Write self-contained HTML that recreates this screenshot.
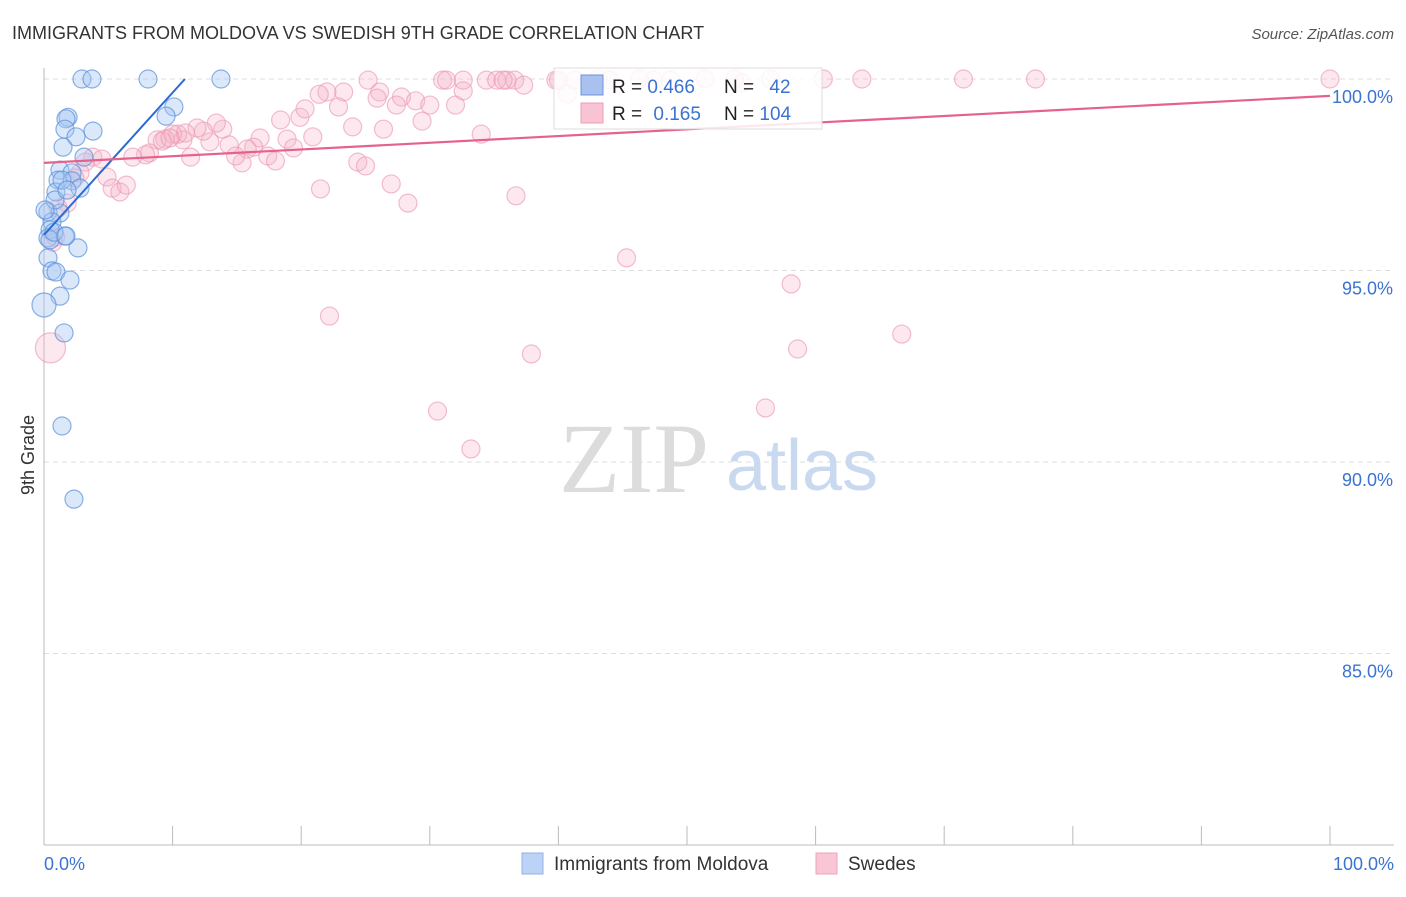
<!DOCTYPE html>
<html><head><meta charset="utf-8"><style>
body{margin:0;background:#fff;font-family:"Liberation Sans",sans-serif;}
</style></head><body>
<svg id="chart" width="1406" height="892" font-family="Liberation Sans, sans-serif">
<text x="12" y="39" font-size="18" fill="#333">IMMIGRANTS FROM MOLDOVA VS SWEDISH 9TH GRADE CORRELATION CHART</text>
<text x="1394" y="39" font-size="15" fill="#555" text-anchor="end" font-style="italic">Source: ZipAtlas.com</text>
<text transform="translate(34,455) rotate(-90)" font-size="18" fill="#333" text-anchor="middle">9th Grade</text>
<g id="grid"></g>
<g id="axes"></g>
<text x="634" y="492" font-size="100" fill="#dcdcdc" style="font-family:'Liberation Serif',serif" text-anchor="middle">ZIP</text>
<text x="802" y="490" font-size="72" fill="#c8d9f0" text-anchor="middle">atlas</text>
<g id="pts"></g>
<g id="lines"></g>
<g>
<rect x="554" y="68" width="268" height="61" fill="#fff" fill-opacity="0.85" stroke="#ddd"/>
<rect x="581" y="75" width="22" height="20" fill="#a9c1ee" stroke="#6a95dd"/>
<rect x="581" y="103" width="22" height="20" fill="#f8c3d3" stroke="#ee9bb6"/>
<text x="612" y="93" font-size="19" fill="#222">R = <tspan fill="#3b73d1">0.466</tspan></text>
<text x="724" y="93" font-size="19" fill="#222">N = <tspan fill="#3b73d1" dx="10">42</tspan></text>
<text x="612" y="120" font-size="19" fill="#222">R = <tspan fill="#3b73d1" dx="6">0.165</tspan></text>
<text x="724" y="120" font-size="19" fill="#222">N = <tspan fill="#3b73d1">104</tspan></text>
</g>
<g>
<rect x="522" y="853" width="21" height="21" fill="#bcd3f5" stroke="#8fb0e6"/>
<text x="554" y="870" font-size="19" fill="#333">Immigrants from Moldova</text>
<rect x="816" y="853" width="21" height="21" fill="#f9c6d5" stroke="#efa3bb"/>
<text x="848" y="870" font-size="19" fill="#333">Swedes</text>
</g>
</svg>
<script>
const yTicks=[100,95,90,85];
const yTickLabels=["100.0%","95.0%","90.0%","85.0%"];
const xTickLabels=["0.0%","100.0%"];
const blueX=[2.95,3.73,8.09,13.76,10.1,9.49,1.87,1.71,1.63,3.81,2.49,1.48,3.11,1.24,2.18,1.09,2.18,2.8,0.93,0.31,1.24,0.62,0.47,1.63,0.31,2.64,0.31,0.62,0.93,2.02,1.24,0,1.56,1.4,2.33,1.4,0.86,0.47,0.08,1.79,0.78,1.71];
const blueY=[100,100,100,100,99.27,99.03,99.0,98.96,98.69,98.64,98.49,98.22,97.96,97.62,97.55,97.36,97.34,97.15,97.05,96.53,96.5,96.27,96.06,95.9,95.85,95.59,95.33,94.99,94.96,94.75,94.33,94.1,93.37,90.94,89.03,97.36,96.84,95.8,96.58,97.1,96.0,95.9];
const pinkX=[25.2,22.0,23.3,22.9,26.1,27.8,27.4,28.9,30.0,29.4,32.0,32.6,31.0,32.6,34.4,35.2,36.0,36.6,37.3,40.0,40.7,34.0,24.0,26.4,18.4,19.9,20.3,20.9,18.9,19.4,16.8,16.3,15.8,15.4,14.9,14.4,17.4,18.0,13.9,13.4,12.9,12.4,11.9,11.4,10.8,10.4,10.0,9.4,8.8,8.2,24.4,25.0,21.5,27.0,28.3,36.7,22.2,3.8,4.5,3.2,4.9,5.3,5.9,6.4,2.8,2.4,1.8,1.1,0.9,0.7,0.5,45.3,58.1,66.7,58.6,37.9,30.6,56.1,33.2,60.6,63.6,71.5,77.1,100,53.7,51.4,56.5,46.3,43.1,41.3,54.3,7.9,6.9,9.2,11.0,9.8,31.3,35.7,39.8,44.0,47.4,48.7,25.9,21.4];
const pinkY=[99.97,99.66,99.66,99.27,99.66,99.53,99.32,99.43,99.32,98.9,99.32,99.69,99.97,99.97,99.97,99.97,99.97,99.97,99.84,99.97,99.61,98.56,98.75,98.69,98.93,99.0,99.22,98.49,98.43,98.2,98.46,98.22,98.17,97.81,97.99,98.28,97.99,97.86,98.69,98.85,98.36,98.64,98.72,97.96,98.41,98.56,98.56,98.43,98.41,98.07,97.83,97.73,97.13,97.26,96.76,96.95,93.81,97.96,97.91,97.83,97.44,97.15,97.05,97.23,97.55,97.42,96.76,96.63,95.87,95.74,92.98,95.33,94.65,93.34,92.95,92.82,91.33,91.41,90.34,100,100,100,100,100,100,100,100,100,100,99.97,99.9,98.02,97.96,98.38,98.59,98.46,99.97,99.97,99.97,99.97,99.97,99.97,99.5,99.6];
const blueTrend=[[0,95.93],[10.96,100]];
const pinkTrend=[[0,97.81],[100,99.56]];
const NS="http://www.w3.org/2000/svg";
const X=v=>44+v*12.86, Y=v=>79+(100-v)*38.3;
function mk(t,a,p){const e=document.createElementNS(NS,t);for(const k in a)e.setAttribute(k,a[k]);p.appendChild(e);return e;}
const grid=document.getElementById('grid'),axes=document.getElementById('axes');
yTicks.forEach((t,i)=>{
 const l=mk('line',{x1:44,x2:1394,y1:Y(t),y2:Y(t),stroke:'#ddd','stroke-dasharray':'5,4'},grid);
 
 
 const tx=mk('text',{x:1393,y:Y(t)+24,'font-size':18,fill:'#3b73d1','text-anchor':'end'},axes);
 tx.textContent=yTickLabels[i];
 
 
});
mk('line',{x1:44,x2:44,y1:68,y2:845,stroke:'#bbb'},axes);
mk('line',{x1:44,x2:1394,y1:845,y2:845,stroke:'#bbb'},axes);
for(let i=0;i<=10;i++){const t=mk('line',{x1:X(i*10),x2:X(i*10),y1:826,y2:845,stroke:'#bbb'},axes);
 
 }
[[0,'start',44],[1,'end',1394]].forEach(([i,a,x])=>{const t=mk('text',{x:x,y:870,'font-size':18,fill:'#3b73d1','text-anchor':a},axes);t.textContent=xTickLabels[i];
 
 });
const pts=document.getElementById('pts');
pinkX.forEach((x,i)=>{const r=(x<1&&pinkY[i]<93.5)?15:9;
 const c=mk('circle',{cx:X(x),cy:Y(pinkY[i]),r:r,fill:'#f6b3c8','fill-opacity':0.3,stroke:'#eb93b1','stroke-opacity':0.6,'stroke-width':1.2},pts);
 
 });
blueX.forEach((x,i)=>{const r=(x===0)?12:9;
 const c=mk('circle',{cx:X(x),cy:Y(blueY[i]),r:r,fill:'#a6c6f2','fill-opacity':0.4,stroke:'#5a90dc','stroke-opacity':0.7,'stroke-width':1.2},pts);
 
 });
const lines=document.getElementById('lines');
const b=mk('line',{x1:X(blueTrend[0][0]),y1:Y(blueTrend[0][1]),x2:X(blueTrend[1][0]),y2:Y(blueTrend[1][1]),stroke:'#2a6ad4','stroke-width':2},lines);


const p=mk('line',{x1:X(pinkTrend[0][0]),y1:Y(pinkTrend[0][1]),x2:X(pinkTrend[1][0]),y2:Y(pinkTrend[1][1]),stroke:'#e4628c','stroke-width':2.2},lines);


</script>
</body></html>
